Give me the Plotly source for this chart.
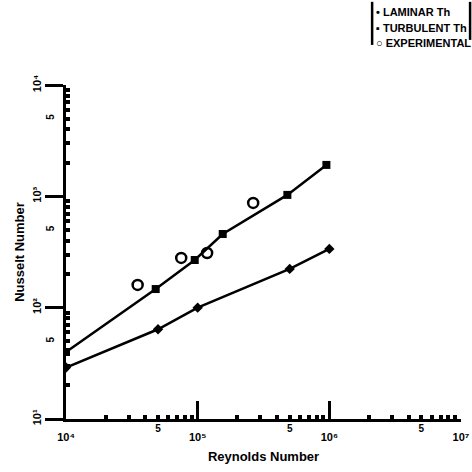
import plotly.graph_objects as go

# Data
re_laminar = [1e4, 5e4, 1e5, 5e5, 1e6]
nu_laminar = [29, 64, 100, 223, 337]

re_turbulent = [1e4, 4.8e4, 9.5e4, 1.55e5, 4.8e5, 9.5e5]
nu_turbulent = [40, 147, 268, 459, 1030, 1915]

re_exp = [3.5e4, 7.5e4, 1.18e5, 2.64e5]
nu_exp = [160, 280, 310, 873]

x_major = [1e4, 1e5, 1e6, 1e7]
x_major_text = ["10⁴", "10⁵", "10⁶", "10⁷"]
y_major = [1e1, 1e2, 1e3, 1e4]
y_major_text = ["10¹", "10²", "10³", "10⁴"]
x_five = [5e4, 5e5, 5e6]
y_five = [5e1, 5e2, 5e3]
five_text = ["5", "5", "5"]

legend_labels = ["• LAMINAR Th", "▪ TURBULENT Th", "○ EXPERIMENTAL"]

x_minor = [m * d for d in (1e4, 1e5, 1e6) for m in range(2, 10)]
y_minor = [m * d for d in (1e1, 1e2, 1e3) for m in range(2, 10)]

FAM = "Liberation Sans, Arial, sans-serif"
FONT = dict(family=FAM, color="black", weight="bold")

fig = go.Figure()
fig.add_trace(go.Scatter(
    x=re_laminar, y=nu_laminar, mode="lines+markers", name=legend_labels[0],
    line=dict(color="black", width=2.5),
    marker=dict(symbol="diamond", size=8, color="black")))
fig.add_trace(go.Scatter(
    x=re_turbulent, y=nu_turbulent, mode="lines+markers", name=legend_labels[1],
    line=dict(color="black", width=2.5),
    marker=dict(symbol="square", size=8, color="black")))
fig.add_trace(go.Scatter(
    x=re_exp, y=nu_exp, mode="markers", name=legend_labels[2],
    marker=dict(symbol="circle-open", size=10, color="black", line=dict(width=2.5))))

# "5" labels on overlay axes
fig.add_trace(go.Scatter(x=[None], y=[None], xaxis="x2", yaxis="y2", showlegend=False))

fig.update_layout(
    width=472, height=472,
    margin=dict(l=66, r=11, t=85, b=53, autoexpand=False),
    paper_bgcolor="white", plot_bgcolor="white",
    font=dict(**FONT, size=12),
    showlegend=False,
    xaxis=dict(type="log", range=[4, 7], showgrid=False, zeroline=False,
               showline=True, linecolor="black", linewidth=3,
               tickvals=x_major, ticktext=x_major_text,
               ticks="inside", ticklen=18, tickwidth=3, tickcolor="black",
               tickfont=dict(size=11), ticklabelstandoff=6,
               minor=dict(tickvals=x_minor, ticks="inside", ticklen=4, tickwidth=4,
                          tickcolor="black", showgrid=False),
               title=dict(text="Reynolds Number", font=dict(size=13), standoff=10)),
    yaxis=dict(type="log", range=[1, 4], showgrid=False, zeroline=False,
               showline=True, linecolor="black", linewidth=3,
               tickvals=y_major, ticktext=y_major_text, tickangle=-90,
               ticks="outside", ticklen=18, tickwidth=3, tickcolor="black",
               tickfont=dict(size=11),
               minor=dict(tickvals=y_minor, ticks="inside", ticklen=4, tickwidth=4,
                          tickcolor="black", showgrid=False),
               title=dict(text="Nusselt Number", font=dict(size=13), standoff=4)),
    xaxis2=dict(type="log", range=[4, 7], overlaying="x", side="bottom",
                showgrid=False, zeroline=False, showline=False,
                tickvals=x_five, ticktext=five_text, ticks="", tickfont=dict(size=10),
                ticklabelstandoff=2),
    yaxis2=dict(type="log", range=[1, 4], overlaying="y", side="left",
                showgrid=False, zeroline=False, showline=False, tickangle=-90,
                tickvals=y_five, ticktext=five_text, ticks="", tickfont=dict(size=10),
                ticklabelstandoff=9),
)

# legend drawn as text rows with bracket lines
for i, label in enumerate(legend_labels):
    fig.add_annotation(xref="paper", yref="paper", x=0.78, y=1.219 - i * 0.047,
                       xanchor="left", yanchor="middle", showarrow=False,
                       text=label, font=dict(family=FAM, size=11,
                                             color="black", weight="bold"))
fig.add_shape(type="line", xref="paper", yref="paper", x0=0.775, x1=0.775, y0=1.12, y1=1.249,
              line=dict(color="black", width=2.5))
fig.add_shape(type="line", xref="paper", yref="paper", x0=1.023, x1=1.023, y0=1.135, y1=1.249,
              line=dict(color="black", width=2.5))

fig.write_html("out.html", config={"displayModeBar": False},
               post_script="document.body.style.margin='0';document.body.style.overflow='hidden';")
